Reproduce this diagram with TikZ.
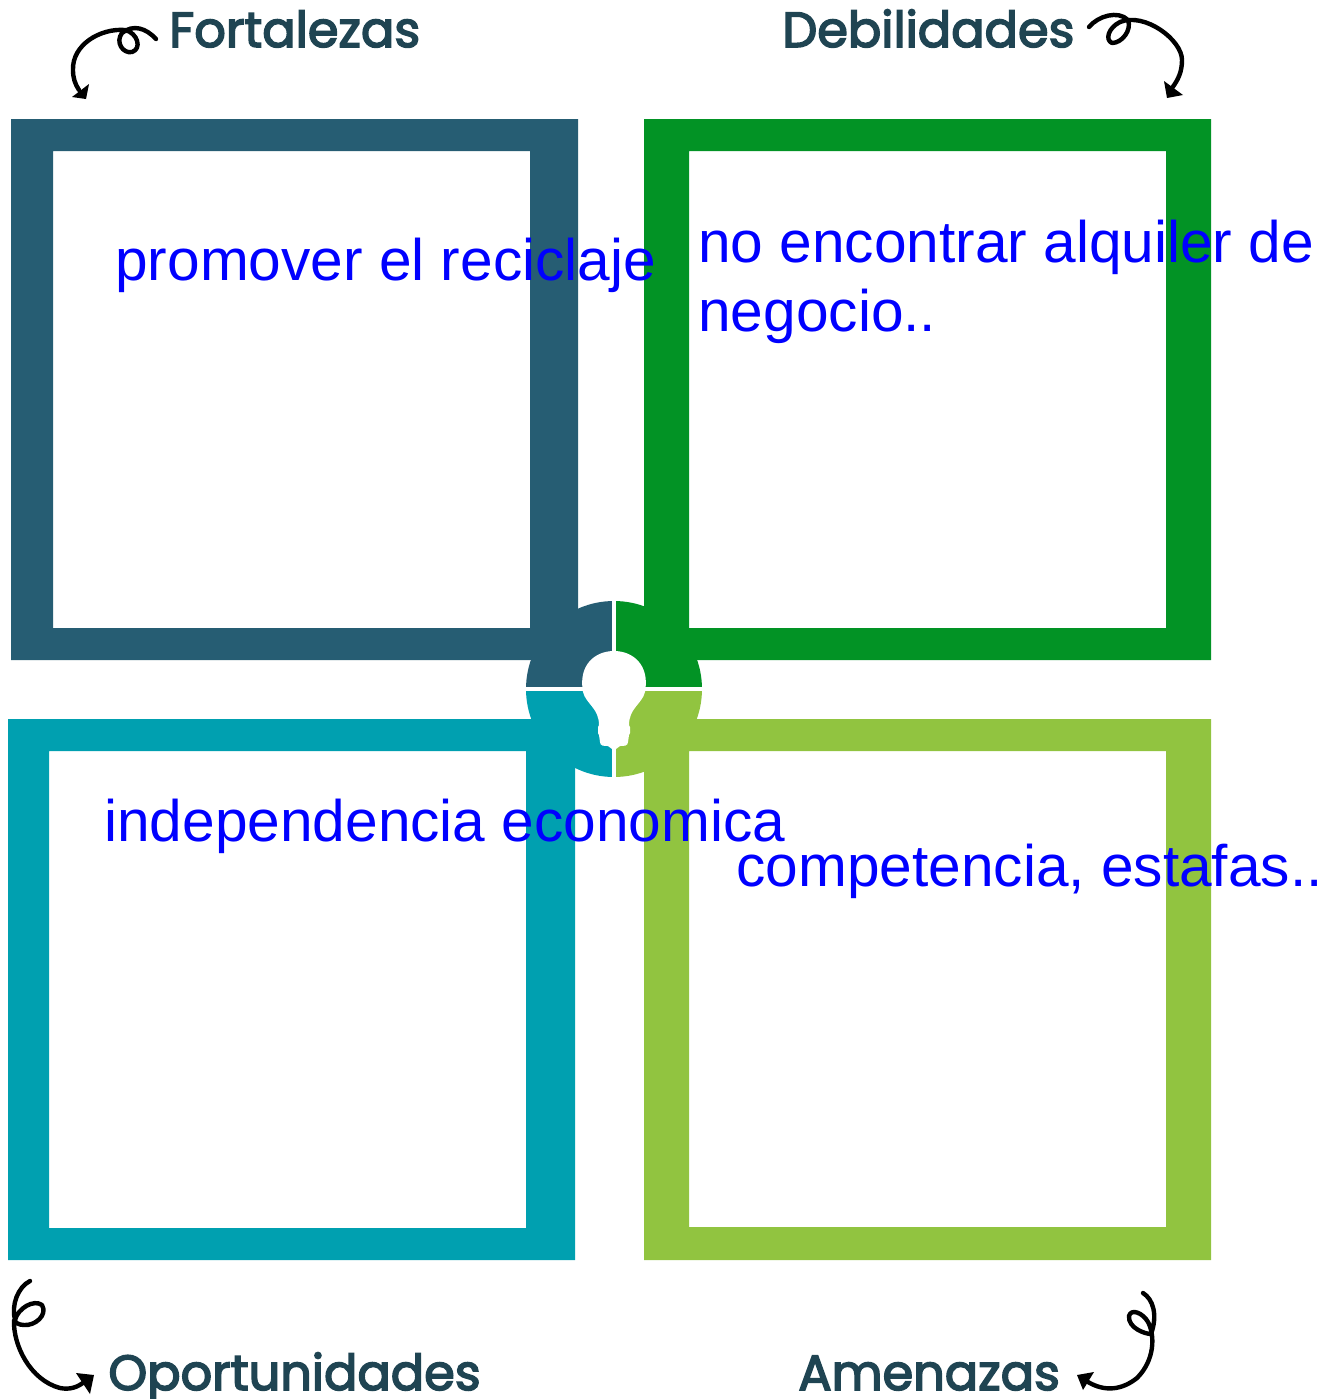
\documentclass[tikz,border=0pt]{standalone}
\usepackage{fontspec}
\setmainfont{Liberation Sans}
\newfontfamily\labfont[FakeBold=3.2]{Poppins}
\begin{document}
\begin{tikzpicture}[x=0.5pt,y=-0.5pt,
  bluetxt/.style={anchor=base west,inner sep=0pt,text=blue,font=\fontsize{29.3}{34}\selectfont},
  lab/.style={anchor=base west,inner sep=0pt,text=labc,font=\labfont\fontsize{24.7}{28}\selectfont},
  swirl/.style={draw=black,line width=2.2pt,line cap=round,line join=round},
  gap/.style={draw=white,line width=1.6pt}]
\definecolor{ctl}{HTML}{265D73}
\definecolor{ctr}{HTML}{029325}
\definecolor{cbl}{HTML}{00A0B0}
\definecolor{cbr}{HTML}{91C440}
\definecolor{labc}{HTML}{1F4452}
\useasboundingbox (0,0) rectangle (1336,1399);
% frames
\fill[ctl,even odd rule] (11,119) rectangle (578,660) (53,151) rectangle (530,628);
\fill[ctr,even odd rule] (644,119) rectangle (1211,660) (689,151) rectangle (1166,628);
\fill[cbl,even odd rule] (8,719) rectangle (575,1260) (49,751) rectangle (526,1228);
\fill[cbr,even odd rule] (644,719) rectangle (1211,1260) (689,751) rectangle (1166,1227);
% central pie
\fill[ctl] (614,689) -- (526,689) arc[start angle=180,end angle=270,radius=88] -- cycle;
\fill[ctr] (614,689) -- (702,689) arc[start angle=0,end angle=-90,radius=88] -- cycle;
\fill[cbl] (614,689) -- (526,689) arc[start angle=180,end angle=90,radius=88] -- cycle;
\fill[cbr] (614,689) -- (702,689) arc[start angle=0,end angle=90,radius=88] -- cycle;
\draw[gap] (614,598) -- (614,780);
\draw[gap] (524,689) -- (704,689);
% bulb
\fill[white] (583,692) .. controls (578,665) and (595,651) .. (614,651)
  .. controls (633,651) and (650,665) .. (645,692)
  .. controls (642,704) and (629,708) .. (629,725)
  -- (630,727) -- (630,733) -- (629,735) -- (628,742)
  .. controls (628,746) and (624,746) .. (620,746)
  -- (616,749) -- (612,749) -- (608,746)
  .. controls (604,746) and (600,746) .. (600,742)
  -- (599,735) -- (598,733) -- (598,727) -- (599,725)
  .. controls (599,708) and (586,704) .. (583,692) -- cycle;
% swirl arrows
\draw[swirl] (156,39) .. controls (146,28) and (133,24) .. (122,33)
  .. controls (115,42) and (123,54) .. (132,52)
  .. controls (142,49) and (138,33) .. (125,30)
  .. controls (100,28) and (72,45) .. (73,70)
  .. controls (73,78) and (75,84) .. (79,90);
\fill (72,97) -- (89,84) -- (86,99) -- cycle;
\draw[swirl] (1089,27) .. controls (1098,16) and (1118,10) .. (1128,20)
  .. controls (1132,30) and (1122,43) .. (1112,43)
  .. controls (1105,40) and (1108,28) .. (1120,22)
  .. controls (1145,12) and (1182,40) .. (1182,60)
  .. controls (1182,72) and (1178,80) .. (1172,88);
\fill (1164,81) -- (1183,95) -- (1167,98) -- cycle;
\draw[swirl] (30,1281) .. controls (18,1287) and (11,1305) .. (15,1320)
  .. controls (18,1308) and (34,1299) .. (42,1305)
  .. controls (48,1315) and (35,1326) .. (24,1325)
  .. controls (18,1325) and (15,1322) .. (14,1320)
  .. controls (13,1345) and (30,1380) .. (60,1388)
  .. controls (70,1390) and (78,1387) .. (84,1382);
\fill (76,1373) -- (94,1375) -- (90,1394) -- cycle;
\draw[swirl] (1143,1293) .. controls (1153,1299) and (1158,1315) .. (1151,1334)
  .. controls (1145,1334) and (1128,1328) .. (1129,1316)
  .. controls (1131,1308) and (1143,1313) .. (1148,1322)
  .. controls (1155,1335) and (1155,1360) .. (1137,1378)
  .. controls (1122,1390) and (1105,1392) .. (1088,1382);
\fill (1077,1375) -- (1094,1372) -- (1083,1390) -- cycle;
% labels
\node[lab] (fort) at (169,47) {Fortalezas};
\node[lab] (deb) at (782,47) {Debilidades};
\node[lab] (opor) at (108,1390) {Oportunidades};
\node[lab] (amen) at (798,1390) {Amenazas};
% blue text
\node[bluetxt] (t1) at (115,280.5) {promover el reciclaje};
\node[bluetxt] (t2) at (698,262.5) {no encontrar alquiler de};
\node[bluetxt] (t2b) at (698,331) {negocio..};
\node[bluetxt] (t3) at (104,841) {independencia economica};
\node[bluetxt] (t4) at (736,886.5) {competencia, estafas..};
\end{tikzpicture}
\end{document}
